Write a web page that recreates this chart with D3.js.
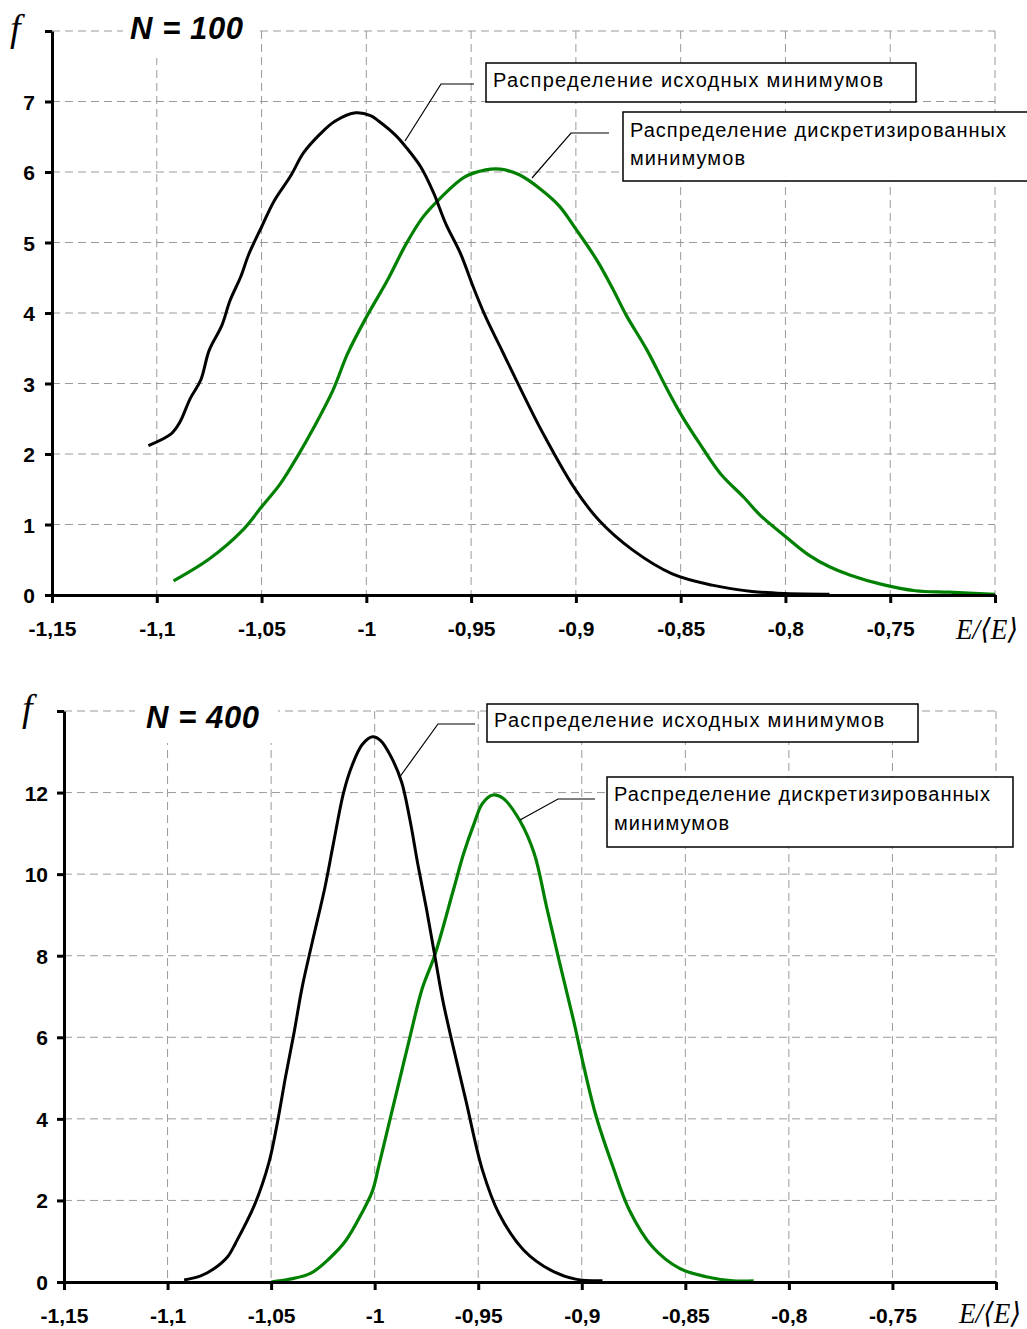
<!DOCTYPE html>
<html><head><meta charset="utf-8">
<script src="https://cdn.jsdelivr.net/npm/d3@7"></script>
<style>body{margin:0;background:#fff}svg{display:block}</style>
</head><body>
<svg id="c" width="1027" height="1329"></svg>
<script>
// ---------- DATA ----------
const xTicks = [-1.15, -1.1, -1.05, -1, -0.95, -0.9, -0.85, -0.8, -0.75, -0.7];
const yTicksTop = [0, 1, 2, 3, 4, 5, 6, 7, 8];
const yTicksBottom = [0, 2, 4, 6, 8, 10, 12, 14];
const titleTop = "N = 100";
const titleBottom = "N = 400";
const labelOrig = "Распределение исходных минимумов";
const labelDisc1 = "Распределение дискретизированных";
const labelDisc2 = "минимумов";
const yAxisLabel = "f";
const xAxisLabel = "E/\u27E8E\u27E9";

// N = 100, original minima [E/<E>, f]
const origN100 = [[-1.104,2.12],[-1.093,2.29],[-1.089,2.45],[-1.084,2.79],[-1.079,3.05],[-1.075,3.47],[-1.069,3.82],[-1.065,4.18],[-1.060,4.51],[-1.056,4.84],[-1.050,5.22],[-1.044,5.59],[-1.036,5.95],[-1.030,6.27],[-1.022,6.54],[-1.015,6.72],[-1.005,6.84],[-0.998,6.80],[-0.994,6.72],[-0.986,6.52],[-0.981,6.35],[-0.974,6.07],[-0.968,5.71],[-0.962,5.26],[-0.955,4.84],[-0.949,4.37],[-0.943,3.94],[-0.935,3.45],[-0.927,2.96],[-0.916,2.31],[-0.901,1.53],[-0.889,1.06],[-0.873,0.64],[-0.854,0.30],[-0.835,0.14],[-0.816,0.05],[-0.800,0.02],[-0.779,0.01]];
// N = 100, discretized minima
const discN100 = [[-1.092,0.20],[-1.075,0.51],[-1.059,0.92],[-1.050,1.25],[-1.041,1.58],[-1.033,1.96],[-1.025,2.38],[-1.016,2.90],[-1.009,3.42],[-1.000,3.94],[-0.990,4.46],[-0.981,4.98],[-0.973,5.36],[-0.965,5.62],[-0.953,5.93],[-0.943,6.03],[-0.936,6.04],[-0.927,5.96],[-0.917,5.76],[-0.908,5.52],[-0.900,5.19],[-0.890,4.75],[-0.882,4.32],[-0.876,3.97],[-0.866,3.47],[-0.857,2.95],[-0.850,2.57],[-0.841,2.15],[-0.831,1.72],[-0.820,1.39],[-0.812,1.13],[-0.800,0.83],[-0.789,0.57],[-0.779,0.40],[-0.769,0.28],[-0.754,0.15],[-0.738,0.06],[-0.722,0.04],[-0.700,0.01]];
// N = 400, original minima
const origN400 = [[-1.092,0.05],[-1.084,0.15],[-1.078,0.31],[-1.071,0.62],[-1.067,0.97],[-1.058,1.89],[-1.051,2.94],[-1.047,3.90],[-1.043,5.04],[-1.039,6.09],[-1.035,7.23],[-1.030,8.36],[-1.024,9.68],[-1.020,10.73],[-1.015,12.00],[-1.011,12.65],[-1.006,13.18],[-1.001,13.37],[-0.997,13.27],[-0.992,12.87],[-0.987,12.26],[-0.983,11.34],[-0.979,10.20],[-0.975,9.15],[-0.971,8.01],[-0.967,6.88],[-0.962,5.75],[-0.956,4.46],[-0.948,2.75],[-0.940,1.68],[-0.928,0.78],[-0.915,0.29],[-0.903,0.07],[-0.890,0.03]];
// N = 400, discretized minima
const discN400 = [[-1.050,0.00],[-1.041,0.07],[-1.031,0.21],[-1.022,0.57],[-1.014,1.01],[-1.006,1.71],[-1.001,2.24],[-0.998,2.85],[-0.993,3.90],[-0.988,4.95],[-0.983,6.00],[-0.977,7.20],[-0.971,8.01],[-0.962,9.61],[-0.957,10.51],[-0.952,11.24],[-0.948,11.73],[-0.943,11.94],[-0.938,11.86],[-0.930,11.32],[-0.923,10.51],[-0.917,9.20],[-0.911,7.89],[-0.904,6.42],[-0.899,5.28],[-0.893,4.05],[-0.885,2.83],[-0.877,1.76],[-0.866,0.87],[-0.853,0.34],[-0.840,0.13],[-0.827,0.03],[-0.817,0.03]];

// ---------- LAYOUT ----------
const panels = [
  { orig: origN100, disc: discN100, yTicks: yTicksTop, title: titleTop,
    xr: [52, 995], yr: [595, 31], yLabDx: -17,
    titleBg: [123, 5, 135, 53], titlePos: [130, 39],
    fPos: [10, 41], ePos: [956, 639],
    box1: {x: 486, y: 63, w: 430, h: 39, tx: 493, ty: 87, tl: 390, lead: [[474,84],[441,84],[405,141]]},
    box2: {x: 623, y: 112, w: 420, h: 69, tx: 630, ty: [137, 165], tl: [376, 115], lead: [[609,133],[571,133],[532,178]]}
  },
  { orig: origN400, disc: discN400, yTicks: yTicksBottom, title: titleBottom,
    xr: [64, 996], yr: [1282, 711], yLabDx: -16,
    titleBg: [135, 695, 143, 48], titlePos: [146, 728],
    fPos: [22, 721], ePos: [959, 1323],
    box1: {x: 487, y: 704, w: 431, h: 38, tx: 494, ty: 727, tl: 390, lead: [[475,724],[438,724],[399,778]]},
    box2: {x: 607, y: 777, w: 406, h: 70, tx: 614, ty: [801, 830], tl: [376, 115], lead: [[595,799],[558,799],[520,820]]}
  }
];

const svg = d3.select("#c");
const sans = "Arial, 'Liberation Sans', sans-serif";
const serif = "'Times New Roman', 'Liberation Serif', 'DejaVu Serif', serif";
const fmt = d => String(d).replace(".", ",");

panels.forEach(p => {
  const g = svg.append("g");
  const yMax = p.yTicks[p.yTicks.length - 1];
  const x = d3.scaleLinear().domain([xTicks[0], xTicks[xTicks.length - 1]]).range(p.xr);
  const y = d3.scaleLinear().domain([0, yMax]).range(p.yr);

  // grid
  g.append("g").selectAll("line").data(p.yTicks.filter(d => d > 0)).join("line")
    .attr("x1", p.xr[0]).attr("x2", p.xr[1]).attr("y1", d => y(d)).attr("y2", d => y(d))
    .attr("stroke", "#9a9a9a").attr("stroke-width", 1).attr("stroke-dasharray", "8,5");
  g.append("g").selectAll("line").data(xTicks.slice(1)).join("line")
    .attr("x1", d => x(d)).attr("x2", d => x(d)).attr("y1", y(yMax)).attr("y2", y(0))
    .attr("stroke", "#9a9a9a").attr("stroke-width", 1).attr("stroke-dasharray", "8,5");

  // title
  g.append("rect").attr("x", p.titleBg[0]).attr("y", p.titleBg[1]).attr("width", p.titleBg[2]).attr("height", p.titleBg[3]).attr("fill", "#fff");
  g.append("text").attr("x", p.titlePos[0]).attr("y", p.titlePos[1]).text(p.title)
    .attr("font-family", sans).attr("font-weight", "bold").attr("font-style", "italic").attr("font-size", 31)
    .attr("textLength", 113).attr("lengthAdjust", "spacing");

  // curves
  const line = d3.line().x(d => x(d[0])).y(d => y(d[1])).curve(d3.curveCatmullRom.alpha(0.5));
  g.append("path").datum(p.disc).attr("d", line).attr("fill", "none").attr("stroke", "#008000")
    .attr("stroke-width", 3.2).attr("stroke-linejoin", "round");
  g.append("path").datum(p.orig).attr("d", line).attr("fill", "none").attr("stroke", "#000")
    .attr("stroke-width", 3).attr("stroke-linejoin", "round");

  // axes
  const xa = g.append("g").attr("transform", `translate(0,${p.yr[0]})`)
    .call(d3.axisBottom(x).tickValues(xTicks).tickSize(8).tickSizeOuter(0)
      .tickFormat((d, i) => i === xTicks.length - 1 ? "" : fmt(d)));
  const ya = g.append("g").attr("transform", `translate(${p.xr[0]},0)`)
    .call(d3.axisLeft(y).tickValues(p.yTicks).tickSize(7).tickSizeOuter(0)
      .tickFormat(d => d === yMax ? "" : fmt(d)));
  [xa, ya].forEach(a => {
    a.select(".domain").attr("stroke", "#000").attr("stroke-width", 3);
    a.selectAll(".tick line").attr("stroke", "#000").attr("stroke-width", 3);
    a.selectAll(".tick text").attr("font-family", sans).attr("font-weight", "bold")
      .attr("font-size", 21).attr("fill", "#000");
  });
  xa.selectAll(".tick text").attr("y", 41).attr("dy", 0);
  ya.selectAll(".tick text").attr("x", p.yLabDx).attr("dy", "0.36em");

  // axis labels
  g.append("text").attr("x", p.fPos[0]).attr("y", p.fPos[1]).text(yAxisLabel)
    .attr("font-family", serif).attr("font-style", "italic").attr("font-size", 38);
  g.append("text").attr("x", p.ePos[0]).attr("y", p.ePos[1]).text(xAxisLabel)
    .attr("font-family", serif).attr("font-style", "italic").attr("font-size", 29)
    .attr("textLength", 62).attr("lengthAdjust", "spacingAndGlyphs");

  // callouts
  const lead = d3.line();
  [p.box1, p.box2].forEach(b => {
    g.append("path").attr("d", lead(b.lead)).attr("fill", "none").attr("stroke", "#000").attr("stroke-width", 1.2);
    g.append("rect").attr("x", b.x).attr("y", b.y).attr("width", b.w).attr("height", b.h)
      .attr("fill", "#fff").attr("stroke", "#000").attr("stroke-width", 1.5);
  });
  g.append("text").attr("x", p.box1.tx).attr("y", p.box1.ty).text(labelOrig)
    .attr("font-family", sans).attr("font-size", 20).attr("textLength", p.box1.tl).attr("lengthAdjust", "spacing");
  g.append("text").attr("x", p.box2.tx).attr("y", p.box2.ty[0]).text(labelDisc1)
    .attr("font-family", sans).attr("font-size", 20).attr("textLength", p.box2.tl[0]).attr("lengthAdjust", "spacing");
  g.append("text").attr("x", p.box2.tx).attr("y", p.box2.ty[1]).text(labelDisc2)
    .attr("font-family", sans).attr("font-size", 20).attr("textLength", p.box2.tl[1]).attr("lengthAdjust", "spacing");
});
</script>
</body></html>
